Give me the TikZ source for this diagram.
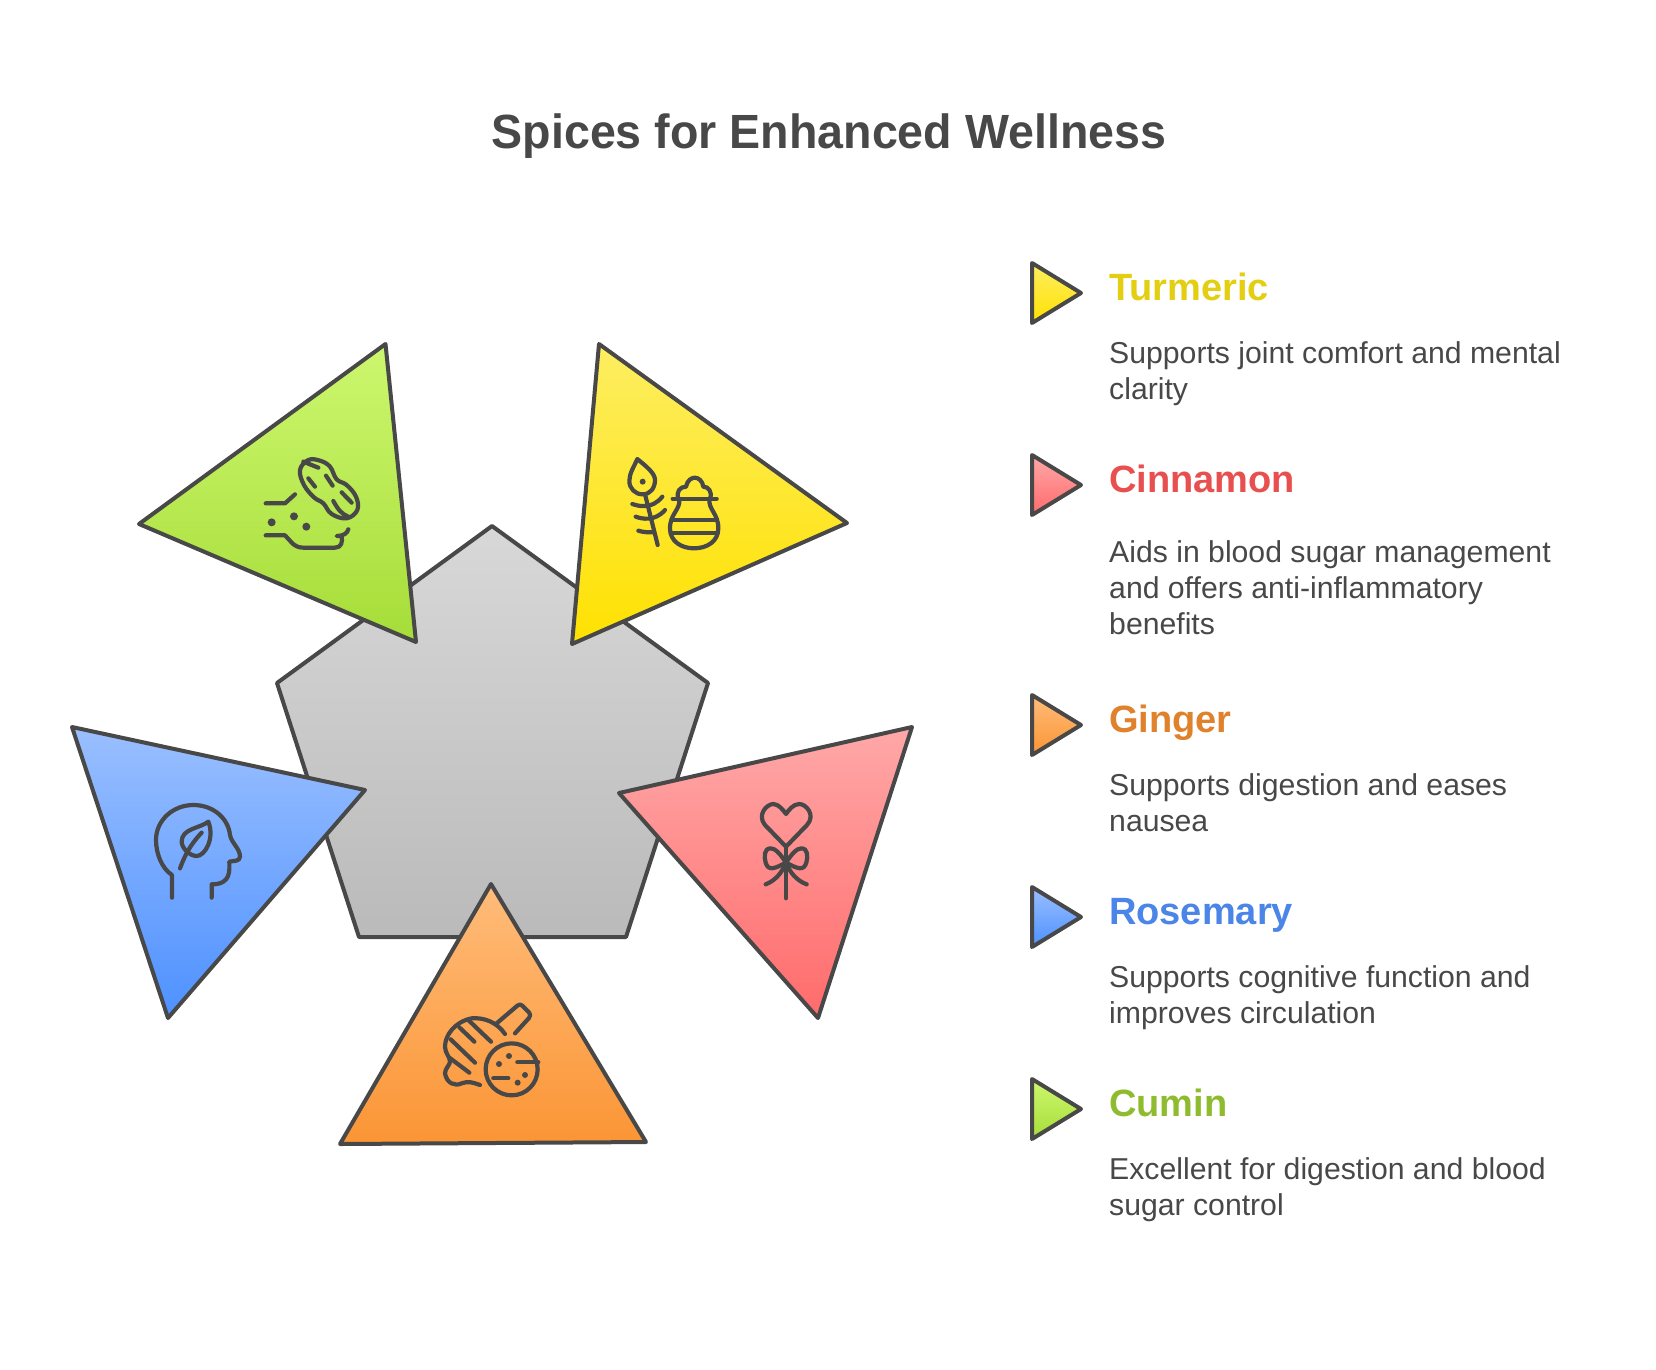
\documentclass[tikz,border=0pt]{standalone}
\usepackage{fontspec}
\setmainfont{Liberation Sans}
\newfontface\titlefont[FakeStretch=0.97]{Liberation Sans Bold}
\definecolor{ink}{HTML}{484848}
\tikzset{
  shp/.style={draw=ink,line width=4pt,line join=round},
  ic/.style={draw=ink,line width=4.2pt,line cap=round,line join=round},
  zoomed/.style={x=0.3333pt,y=-0.3333pt},
  head/.style={anchor=base west,inner sep=0pt,font=\fontsize{38}{38}\selectfont\bfseries},
  body/.style={anchor=base west,inner sep=0pt,text=ink,font=\fontsize{30.2}{36}\selectfont,align=left},
  yel/.style={top color=yelT,bottom color=yelB},
  red/.style={top color=redT,bottom color=redB},
  org/.style={top color=orgT,bottom color=orgB},
  blu/.style={top color=bluT,bottom color=bluB},
  grn/.style={top color=grnT,bottom color=grnB},
}
\definecolor{yelT}{HTML}{FDEE62}\definecolor{yelB}{HTML}{FFE100}
\definecolor{redT}{HTML}{FFA8A8}\definecolor{redB}{HTML}{FF6B6B}
\definecolor{orgT}{HTML}{FFBC7A}\definecolor{orgB}{HTML}{FB9535}
\definecolor{bluT}{HTML}{9ABFFF}\definecolor{bluB}{HTML}{4E91FF}
\definecolor{grnT}{HTML}{CDF76F}\definecolor{grnB}{HTML}{A6DD38}
\definecolor{gryT}{HTML}{D8D8D8}\definecolor{gryB}{HTML}{BABABA}
\begin{document}
\begin{tikzpicture}[x=1pt,y=-1pt]
\useasboundingbox[fill=white] (0,0) rectangle (1656,1369);
\node[anchor=base,inner sep=0pt,text=ink,font=\fontsize{48}{48}\selectfont\titlefont] (title) at (829,148) {Spices for Enhanced Wellness};
% pentagon
\path[shp,top color=gryT,bottom color=gryB] (492,526)--(708,683)--(626,937)--(359,937)--(277,683)--cycle;
% big triangles
\path[shp,grn] (385.5,344)--(416,642)--(139,524)--cycle;
\path[shp,yel] (599,344)--(847,523)--(572,644)--cycle;
\path[shp,blu] (72,727)--(365,790)--(168,1018)--cycle;
\path[shp,red] (912,727)--(619,793)--(818,1018)--cycle;
\path[shp,org] (491,884)--(646,1142)--(340,1144)--cycle;
% cumin icon
\begin{scope}[shift={(240,440)},zoomed]
\draw[ic] plot[smooth cycle,tension=0.65] coordinates{(205,60)(180,90)(192,135)(222,172)(250,190)(275,222)(320,235)(352,210)(348,170)(320,135)(290,118)(270,80)(240,62)};
\draw[ic] (190,65)--(235,83) (205,115)--(225,140) (258,107)--(278,137) (305,157)--(335,188);
\draw[ic] (280,183) .. controls (295,210) and (305,222) .. (325,230);
\draw[ic] (77,190)--(135,190)--(165,163);
\fill[ink] (95,247) circle (4pt) (162,229) circle (4pt) (199,260) circle (4pt);
\draw[ic] (77,286)--(135,286) .. controls (150,300) and (160,323) .. (190,323)--(285,323) .. controls (305,323) and (308,305) .. (305,288)--(290,288) .. controls (310,288) and (322,280) .. (325,268);
\end{scope}
% turmeric icon
\begin{scope}[shift={(610,445)},zoomed]
\draw[ic] (82,42) .. controls (110,65) and (135,85) .. (135,105) .. controls (135,130) and (120,148) .. (98,148) .. controls (75,148) and (58,130) .. (58,108) .. controls (58,85) and (72,65) .. (82,42)--cycle;
\fill[ink] (98,110) circle (3pt);
\draw[ic] (105,148)--(143,300);
\draw[ic] (67,177) .. controls (85,183) and (125,195) .. (157,155);
\draw[ic] (77,215) .. controls (95,222) and (135,230) .. (165,195);
\draw[ic] (85,257) .. controls (100,262) and (115,262) .. (130,262);
\draw[ic] (188,161)--(320,161);
\draw[ic] (205,161) .. controls (198,140) and (210,125) .. (228,125) .. controls (232,105) and (245,98) .. (255,98) .. controls (265,98) and (278,108) .. (280,125) .. controls (295,125) and (308,140) .. (300,161);
\draw[ic] (208,161) .. controls (212,195) and (180,205) .. (180,250) .. controls (180,290) and (215,310) .. (252,310) .. controls (290,310) and (325,290) .. (325,250) .. controls (325,205) and (295,195) .. (298,161);
\draw[ic] (185,225)--(320,225) (185,265)--(320,265);
\end{scope}
% rosemary icon
\begin{scope}[shift={(140,790)},zoomed]
\draw[ic] (96,323)--(96,255) .. controls (65,235) and (48,190) .. (48,150) .. controls (48,90) and (100,45) .. (160,45) .. controls (220,45) and (265,85) .. (270,135) .. controls (275,160) and (300,175) .. (300,200) .. controls (300,215) and (280,212) .. (268,215) .. controls (268,240) and (275,283) .. (215,283)--(215,323);
\draw[ic] (205,95) .. controls (180,115) and (125,115) .. (125,155) .. controls (125,175) and (150,198) .. (170,198) .. controls (195,198) and (225,145) .. (205,95)--cycle;
\draw[ic] (120,235) .. controls (135,195) and (150,165) .. (185,128);
\end{scope}
% cinnamon icon
\begin{scope}[shift={(740,790)},zoomed]
\draw[ic] (138,170)--(75,105) .. controls (50,75) and (80,42) .. (100,42) .. controls (115,42) and (130,60) .. (138,72) .. controls (146,60) and (160,42) .. (178,42) .. controls (198,42) and (228,75) .. (201,105)--cycle;
\draw[ic] (138,218) .. controls (120,190) and (105,175) .. (92,175) .. controls (72,175) and (72,200) .. (77,218) .. controls (85,245) and (105,235) .. (138,218);
\draw[ic] (138,218) .. controls (156,190) and (171,175) .. (184,175) .. controls (204,175) and (204,200) .. (199,218) .. controls (191,245) and (171,235) .. (138,218);
\draw[ic] (138,170)--(138,325);
\draw[ic] (77,283) .. controls (105,272) and (125,250) .. (138,218) .. controls (151,250) and (171,272) .. (200,283);
\end{scope}
% ginger icon
\begin{scope}[shift={(430,990)},zoomed]
\draw[ic] (245,238) circle (26pt);
\draw[ic] (200,100)--(262,47) .. controls (268,42) and (272,42) .. (277,47)--(297,67) .. controls (302,72) and (302,78) .. (297,84)--(255,130);
\draw[ic] (225,132) .. controls (200,95) and (160,82) .. (125,85) .. controls (75,95) and (45,135) .. (45,170) .. controls (45,190) and (60,200) .. (60,215) .. controls (60,225) and (45,235) .. (45,250) .. controls (50,280) and (75,290) .. (95,280) .. controls (115,272) and (130,278) .. (150,285);
\draw[ic] (115,90)--(183,155) (88,112)--(133,155) (62,148)--(135,218) (58,203)--(118,248);
\draw[ic] (262,217)--(325,217) (190,265)--(235,265);
\fill[ink] (237,198) circle (3pt) (207,222) circle (3pt) (285,255) circle (3pt) (263,278) circle (3pt);
\end{scope}
% legend
\path[shp,yel] (1032,263)--(1081,293)--(1032,323)--cycle;
\path[shp,red] (1032,455)--(1081,485)--(1032,515)--cycle;
\path[shp,org] (1032,695)--(1081,725)--(1032,755)--cycle;
\path[shp,blu] (1032,887)--(1081,917)--(1032,947)--cycle;
\path[shp,grn] (1032,1079)--(1081,1109)--(1032,1139)--cycle;
\definecolor{hY}{HTML}{E3CE12}\definecolor{hR}{HTML}{E8504F}\definecolor{hO}{HTML}{E0812B}\definecolor{hB}{HTML}{4B85E8}\definecolor{hG}{HTML}{8FBC2E}
\node[head,text=hY] (h1) at (1109,300) {Turmeric};
\node[head,text=hR] (h2) at (1109,492) {Cinnamon};
\node[head,text=hO] (h3) at (1109,732) {Ginger};
\node[head,text=hB] (h4) at (1109,924) {Rosemary};
\node[head,text=hG] (h5) at (1109,1116) {Cumin};
\node[body] (b1) at (1109,399) {Supports joint comfort and mental\\clarity};
\node[body] (b2) at (1109,634) {Aids in blood sugar management\\and offers anti-inflammatory\\benefits};
\node[body] (b3) at (1109,831) {Supports digestion and eases\\nausea};
\node[body] (b4) at (1109,1023) {Supports cognitive function and\\improves circulation};
\node[body] (b5) at (1109,1215) {Excellent for digestion and blood\\sugar control};
\end{tikzpicture}
\end{document}
